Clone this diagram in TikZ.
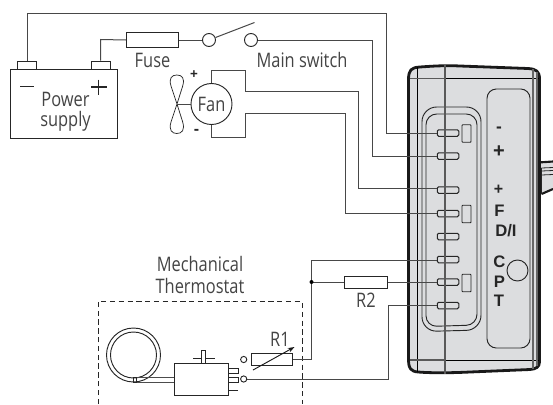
\documentclass[tikz,border=0pt]{standalone}
\usepackage{fontspec}
\setmainfont{Open Sans}[FakeStretch=0.82]
\newfontfamily\lblfont{Liberation Sans}
\usetikzlibrary{arrows.meta}
\definecolor{wirec}{HTML}{484848}
\definecolor{txtc}{HTML}{444444}
\definecolor{bodyc}{HTML}{DCDDDF}
\def\pxu{0.75pt}
\tikzset{
  x=0.75pt,y=-0.75pt,
  wire/.style={draw=wirec,line width=0.75pt,line join=miter},
  thin wire/.style={draw=black!85,line width=0.6pt},
  box/.style={draw=black!85,line width=0.7pt,fill=white,inner sep=0pt,rectangle},
  tabc/.style={draw=black!85,line width=0.75pt,rounded corners=1pt,fill=bodyc,inner sep=0pt,rectangle,minimum width=21.5*\pxu,minimum height=6.5*\pxu},
  latch/.style={draw=black!85,line width=0.7pt,rounded corners=0.5pt,fill=bodyc,inner sep=0pt,rectangle,minimum width=9*\pxu,minimum height=17.5*\pxu},
  ringc/.style={draw=black!85,line width=0.7pt,fill=white,circle,inner sep=0pt},
  lbl/.style={text=txtc,font=\fontsize{15}{17}\selectfont,inner sep=0pt},
  pin/.style={text=black!85,font=\lblfont\bfseries\fontsize{12.5}{14}\selectfont,inner sep=0pt},
}
\begin{document}
\begin{tikzpicture}
\useasboundingbox (0,0) rectangle (553,404);
% side tab
\fill[bodyc] (538,163) -- (553,162) -- (553,189) -- (541.5,193.5) -- (538,193.5) -- cycle;
\draw[black!90,line width=1.6pt] (538,162.5) -- (553,161.5) (553,189) -- (541.5,194);
\draw[black!85,line width=0.6pt] (541.5,168) -- (553,167.5) (541.5,171) -- (553,170.5) (541.5,175) -- (553,174.5) (541.5,168) -- (541.5,194);
% body
\draw[black!90,line width=2.1pt,fill=bodyc,line join=round]
  (408.5,80) .. controls (408.5,70) and (411,67.5) .. (420,67)
  .. controls (440,65.5) and (450,65.5) .. (460,66)
  -- (528,68.5) .. controls (536,69) and (539.5,71) .. (539.5,79)
  -- (539.5,362) .. controls (539.5,367) and (536,369) .. (530,369.5)
  -- (470,372) .. controls (450,373) and (430,373) .. (418,372)
  .. controls (411,371.5) and (408.5,368) .. (408.5,361) -- cycle;
% inner lines of body
\draw[black,line width=0.6pt] (417.5,67) -- (417.5,372);
\draw[black!65,line width=0.9pt] (410,78.5) -- (445,78.5) (410,360) -- (445,360);
\draw[black,line width=0.6pt] (445,78.5) -- (538.5,78.5) (445,360) -- (538.5,360);
\draw[black!60,line width=0.8pt] (533,69) -- (533,369) (537,72) -- (537,366);
% connector outlines
\draw[black!85,line width=0.7pt,rounded corners=11pt] (422,331.5) -- (422,107) -- (481,107) -- (481,330) -- cycle;
\draw[black!85,line width=0.7pt,rounded corners=8pt] (426,326.5) -- (426,114) -- (477,114) -- (477,325) -- cycle;
% display panel
\draw[black!85,line width=0.7pt,rounded corners=7pt] (487,348) -- (487,89) -- (530,89) -- (530,348) -- cycle;
\node[circle,draw=black!85,line width=0.7pt,inner sep=0pt,minimum size=21*\pxu] (cap) at (517.5,270.5) {};
% contacts
\node[tabc] (t1) at (448,133) {};
\node[tabc] (t2) at (448,156) {};
\node[tabc] (t3) at (448,190) {};
\node[tabc] (t4) at (448,213.5) {};
\node[tabc] (t5) at (448,236.5) {};
\node[tabc] (t6) at (448,259.5) {};
\node[tabc] (t7) at (448,282) {};
\node[tabc] (t8) at (448,305.5) {};
\node[latch] (l1) at (466.5,133.5) {};
\node[latch] (l2) at (466.5,214) {};
\node[latch] (l3) at (466.5,283) {};
% pin labels
\node[pin,font=\lblfont\bfseries\fontsize{13}{14}\selectfont] (p1) at (499,130) {-};
\node[pin,font=\lblfont\bfseries\fontsize{15}{14}\selectfont] (p2) at (499,152) {+};
\node[pin,font=\lblfont\bfseries\fontsize{12}{14}\selectfont] (p3) at (498.5,190) {+};
\node[pin] (p4) at (499.5,211) {F};
\node[pin,anchor=west] (p5) at (495,230.5) {D/I};
\node[pin] (p6) at (499.5,262) {C};
\node[pin] (p7) at (499.5,281.5) {P};
\node[pin] (p8) at (499,301) {T};
% battery
\node[box,minimum width=107*\pxu,minimum height=69*\pxu] (bat) at (63.5,103.5) {};
\node[box,minimum width=19*\pxu,minimum height=8*\pxu] (neg) at (27,65) {};
\node[box,minimum width=19*\pxu,minimum height=8*\pxu] (pos) at (100.5,65) {};
\draw[black!85,line width=1.1pt] (20,86.5) -- (34,86.5);
\draw[black!85,line width=1.1pt] (91,87) -- (106.5,87) (98.7,79.5) -- (98.7,94.5);
\node[lbl] (pw) at (65.5,99.5) {Power};
\node[lbl] (su) at (65.5,121) {supply};
% fuse and switch
\node[box,minimum width=52*\pxu,minimum height=15*\pxu] (fuse) at (152.5,40) {};
\node[ringc,minimum size=13*\pxu] (s1) at (209,40) {};
\node[ringc,minimum size=13*\pxu] (s2) at (251,40) {};
\node[lbl] (fl) at (152.5,60) {Fuse};
\node[lbl] (ml) at (302,60) {Main switch};
\coordinate (swtip) at (254.5,22.5);
\draw[wire] (s1) -- (swtip);
% power wires
\draw[wire] (neg.north) -- (27,13.5) -- (386,13.5) -- (386,133) -- (t1.west);
\draw[wire] (pos.north) -- (100.5,39.5) -- (fuse.west);
\draw[wire] (fuse.east) -- (s1.west);
\draw[wire] (s2.east) -- (372.5,40) -- (372.5,156) -- (t2.west);
% fan
\node[circle,draw=black!85,line width=0.7pt,fill=white,inner sep=0pt,minimum size=41*\pxu,lbl] (fan) at (211.5,104) {Fan};
\coordinate (hub) at (177,104);
\draw[black!85,line width=0.55pt]
  (hub) -- (171,86) .. controls (168.5,78) and (172,75) .. (176.8,75)
  .. controls (182,75) and (185,78) .. (182.7,86) -- (hub)
  -- (171,122) .. controls (168.5,130) and (172,133.5) .. (176.8,133.5)
  .. controls (182,133.5) and (185,130) .. (182.7,122) -- cycle;
\draw[wire] (hub) -- (fan.west);
\node[pin,font=\lblfont\bfseries\fontsize{10}{11}\selectfont] (fp) at (194,75) {+};
\node[pin,font=\lblfont\bfseries\fontsize{12}{11}\selectfont] (fm) at (196.5,132) {-};
\draw[wire] (fan.north) -- (211.5,70.5) -- (245,70.5) -- (245,91) -- (358.5,91) -- (358.5,188) -- (t3.west|-358.5,188);
\draw[wire] (fan.south) -- (211.5,137.5) -- (245,137.5) -- (245,113) -- (345.5,113) -- (345.5,213.5) -- (t4.west);
% thermostat
\node[lbl,align=center] (mech) at (200,264) {Mechanical};
\node[lbl] (ther) at (200,286) {Thermostat};
\draw[black!85,line width=0.7pt,dash pattern=on 4pt off 2.6pt] (98,404) -- (98,301.5) -- (302,301.5) -- (302,404);
\node[circle,draw=black!85,line width=0.7pt,inner sep=0pt,minimum size=54*\pxu] (bo) at (133.5,355) {};
\node[circle,draw=black!85,line width=0.7pt,inner sep=0pt,minimum size=46*\pxu] (bi) at (133.5,355) {};
\node[box,minimum width=54*\pxu,minimum height=32*\pxu] (th) at (201,379.5) {};
\node[box,minimum width=10*\pxu,minimum height=5*\pxu] (tb1) at (233,370.5) {};
\node[box,minimum width=10*\pxu,minimum height=5*\pxu] (tb2) at (233,379.5) {};
\coordinate (tb3) at (238,390);
\draw[thin wire] (tb3) -- (228,390);
\draw[thin wire] (193,358) -- (215,358);
\node[box,minimum width=4.7*\pxu,minimum height=13*\pxu] (knob) at (203.5,356.5) {};
\draw[black!70,line width=0.6pt] (134,377.5) -- (th.west|-134,377.5) (134,382.2) -- (th.west|-134,382.2);
\node[draw=black!85,line width=0.6pt,inner sep=0pt,minimum width=3*\pxu,minimum height=4.5*\pxu] (cl) at (134.5,380) {};
\node[ringc,minimum size=6.2*\pxu] (c1) at (243.7,359.5) {};
\node[ringc,minimum size=6.2*\pxu] (c2) at (243.7,379) {};
\node[box,minimum width=41.5*\pxu,minimum height=12.5*\pxu] (r1) at (272,359.7) {};
\coordinate (a1) at (253,370);
\coordinate (a2) at (294.5,347);
\draw[black!90,line width=0.7pt,-{Stealth[length=5pt,width=3.5pt]}] (a1) -- (a2);
\node[lbl] (r1l) at (280,339) {R1};
\node[box,minimum width=42.5*\pxu,minimum height=12*\pxu] (r2) at (366,282) {};
\node[lbl] (r2l) at (366,300) {R2};
\draw[wire] (r1.east) -- (311.5,359.7) -- (311.5,260) -- (t6.west|-311.5,260);
\coordinate (dot) at (311.5,282);
\draw[wire] (dot) -- (r2.west);
\draw[wire] (r2.east) -- (t7.west);
\draw[wire] (t8.west) -- (388.5,305.5) -- (388.5,379) -- (c2.east);
\fill[black] (dot) circle (1.5pt);
% centre line of the device, on top of everything
\draw[black!65,line width=1pt] (445,65) -- (445,374);
\end{tikzpicture}
\end{document}
